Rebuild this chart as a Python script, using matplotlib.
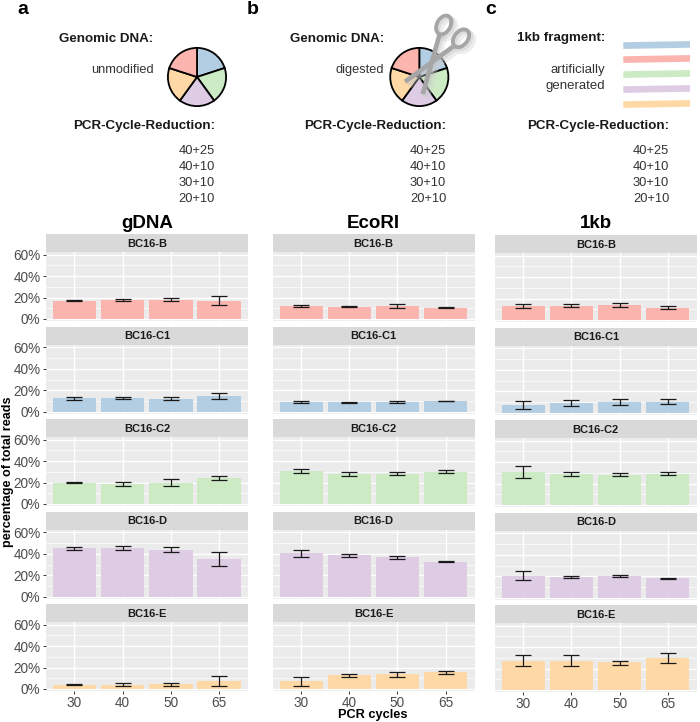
import matplotlib
matplotlib.use('Agg')
import matplotlib.pyplot as plt
from matplotlib.patches import Ellipse

plt.rcParams['font.family'] = ['Liberation Sans', 'DejaVu Sans']

W, H = 700, 722

cycles = ['30', '40', '50', '65']
samples = ['BC16-B', 'BC16-C1', 'BC16-C2', 'BC16-D', 'BC16-E']
sample_colors = ['#FBB4AE', '#B3CDE3', '#CCEBC5', '#DECBE4', '#FED9A6']
y_ticks = [0, 20, 40, 60]
y_minor = [10, 30, 50]
reductions = ['40+25', '40+10', '30+10', '20+10']

# pie shares, clockwise from the top
pie_shares = [1, 1, 1, 1, 1]
pie_colors = ['#B3CDE3', '#CCEBC5', '#DECBE4', '#FED9A6', '#FBB4AE']
fragment_colors = ['#B3CDE3', '#FBB4AE', '#CCEBC5', '#DECBE4', '#FED9A6']

# one row per sample
gdna_mean = [[17, 17.5, 18, 17], [12.5, 12.5, 12.2, 14.7], [19.7, 18.5, 20, 24.5],
             [45.3, 45.6, 43.7, 35.3], [4, 4, 4.3, 7.2]]
gdna_low = [[16.8, 16.7, 16.5, 13.5], [11.2, 11.5, 11, 11.5], [19.4, 17.2, 17.2, 22.8],
            [44, 43.7, 41.5, 28.7], [3.8, 3.1, 3.1, 2.5]]
gdna_high = [[17.5, 18.7, 20, 21], [13.7, 13.4, 13.5, 17.8], [20.3, 20.6, 23, 26.5],
             [46.5, 47.5, 46, 41.9], [4.4, 5.3, 5.9, 11.9]]

ecori_mean = [[11.9, 11.6, 12.2, 10.6], [9, 8.7, 9, 10], [31, 27.8, 28, 30],
              [40.3, 38.7, 36.6, 32.8], [7.2, 12.8, 13.7, 15.9]]
ecori_low = [[10.9, 11.2, 10, 10.3], [8.1, 8.1, 8.4, 9.7], [29, 26.2, 26.6, 29],
             [36.9, 36.9, 35, 31.9], [2.8, 11.6, 11.6, 14]]
ecori_high = [[12.8, 12.2, 14, 11.2], [9.7, 9, 10, 10.3], [33, 29.4, 29.7, 31.5],
              [43.8, 40, 37.5, 33.4], [11.6, 13.7, 15.6, 17.2]]

kb_mean = [[12.8, 13.4, 14, 11.6], [6.9, 8.7, 9.7, 10.3], [30.6, 28.7, 28.4, 28.7],
           [20.6, 19.7, 20, 18], [27.5, 26.9, 25.9, 30]]
kb_low = [[10.9, 12.2, 12.2, 10], [3.4, 6.2, 7.5, 8.1], [25, 26.6, 27.2, 27.5],
          [16.2, 18.4, 19, 17.2], [22.8, 22.2, 23.7, 25.6]]
kb_high = [[14.7, 14.7, 15.6, 12.8], [10.6, 12.2, 12.8, 12.8], [36, 31.2, 29.7, 30.3],
           [25, 20.6, 21.2, 18.4], [32.2, 32.2, 27.5, 34.7]]

titles = ['gDNA', 'EcoRI', '1kb']
col_means = [gdna_mean, ecori_mean, kb_mean]
col_lows = [gdna_low, ecori_low, kb_low]
col_highs = [gdna_high, ecori_high, kb_high]

# layout in pixels
col_left = [46, 273, 495]
col_right = [248, 474.5, 696.7]
col_shift = [0, 0, 1]
strip_top = [234.3, 327, 419.3, 512, 604.3]
strip_h = 17.7
panel_h = 69


def px_axes(fig, left, top, width, height):
    return fig.add_axes([left / W, 1 - (top + height) / H, width / W, height / H])


fig = plt.figure(figsize=(7, 7.22), dpi=100)

# facets
for c in range(3):
    left = col_left[c]
    width = col_right[c] - left
    for r in range(5):
        top = strip_top[r] + col_shift[c]
        strip = px_axes(fig, left, top, width, strip_h)
        strip.set_facecolor('#D9D9D9')
        strip.set_xticks([])
        strip.set_yticks([])
        for s in strip.spines.values():
            s.set_visible(False)
        strip.text(0.5, 0.47, samples[r], transform=strip.transAxes, ha='center', va='center',
                   fontsize=8, fontweight='bold', color='#1A1A1A')

        ax = px_axes(fig, left, top + strip_h, width, panel_h)
        ax.set_facecolor('#EBEBEB')
        for s in ax.spines.values():
            s.set_visible(False)
        ax.set_axisbelow(True)
        xs = list(range(4))
        means = col_means[c][r]
        lows = col_lows[c][r]
        highs = col_highs[c][r]
        ax.bar(xs, means, width=0.9, color=sample_colors[r], zorder=2)
        yerr = [[m - l for m, l in zip(means, lows)], [h - m for m, h in zip(means, highs)]]
        ax.errorbar(xs, means, yerr=yerr, fmt='none', ecolor='#1A1A1A', elinewidth=0.9,
                    capsize=6.1, capthick=0.9, zorder=3)
        ax.set_xlim(-0.586, 3.6)
        ax.set_ylim(-1.9, 62.5)
        ax.set_xticks(xs)
        ax.set_yticks(y_ticks)
        ax.set_yticks(y_minor, minor=True)
        ax.grid(True, which='major', color='white', lw=1.0)
        ax.grid(True, which='minor', axis='y', color='white', lw=0.5)
        ax.tick_params(which='minor', length=0)
        if c == 0:
            ax.set_yticklabels([f'{v}%' for v in y_ticks], fontsize=9.8, color='#4D4D4D')
            ax.tick_params(axis='y', length=2.5, width=0.7, color='#333333', pad=1.5)
        else:
            ax.tick_params(axis='y', length=0, labelleft=False)
        if r == 4:
            ax.set_xticklabels(cycles, fontsize=9.8, color='#4D4D4D')
            ax.tick_params(axis='x', length=2.5, width=0.7, color='#333333', pad=1)
        else:
            ax.tick_params(axis='x', length=0, labelbottom=False)

# pies
for cx in [197, 419.3]:
    pie_ax = px_axes(fig, cx - 30, 47, 60, 60)
    pie_ax.pie(pie_shares, colors=pie_colors, startangle=90, counterclock=False, radius=0.97,
               wedgeprops={'edgecolor': 'black', 'linewidth': 1.3})
    pie_ax.set_xlim(-1, 1)
    pie_ax.set_ylim(-1, 1)

# overlay in pixel coordinates for text and drawings
ov = fig.add_axes([0, 0, 1, 1], zorder=10)
ov.set_xlim(0, W)
ov.set_ylim(H, 0)
ov.axis('off')

# scissors with a soft shadow
for dx, col, lw_extra, z, a in [(4, '#CFCFCF', 1.5, 1, 0.35), (2, '#C4C4C4', 0.5, 1, 0.4),
                                (0, '#A6A6A6', 0, 2, 1)]:
    ov.plot([440 + dx, 422.7 + dx], [33 + dx, 94 + dx], color=col, lw=3.3 + lw_extra, zorder=z,
            alpha=a, solid_capstyle='butt')
    ov.plot([453 + dx, 405 + dx], [46.7 + dx, 81.7 + dx], color=col, lw=3.3 + lw_extra, zorder=z,
            alpha=a, solid_capstyle='butt')
    ov.add_patch(Ellipse((443.7 + dx, 25 + dx), 13.5, 20, angle=28, fill=False, ec=col,
                         lw=2.8 + lw_extra, zorder=z, alpha=a))
    ov.add_patch(Ellipse((461 + dx, 38.3 + dx), 13.5, 20, angle=38, fill=False, ec=col,
                         lw=2.8 + lw_extra, zorder=z, alpha=a))

# 1kb fragments
for y, col in zip([45, 59, 74, 89, 104], fragment_colors):
    ov.plot([623.3, 690], [y + 0.6, y - 0.6], color=col, lw=4.8, solid_capstyle='butt')

label_style = dict(ha='right', va='center', color='#333333')
head_style = dict(ha='right', va='center', fontweight='bold', color='#1A1A1A')

for x, txt in zip([153.7, 384.3, 605.3], ['Genomic DNA:', 'Genomic DNA:', '1kb fragment:']):
    ov.text(x, 38.5, txt, fontsize=9.6, **head_style)
ov.text(153.7, 70, 'unmodified', fontsize=9.2, **label_style)
ov.text(384.3, 70, 'digested', fontsize=9.2, **label_style)
ov.text(605.3, 70, 'artificially', fontsize=9.5, **label_style)
ov.text(605.3, 86, 'generated', fontsize=9.5, **label_style)

for x in [215, 446.3, 669.3]:
    ov.text(x, 126, 'PCR-Cycle-Reduction:', fontsize=9.6, **head_style)
    for y, txt in zip([151, 167, 183, 199], reductions):
        ov.text(x, y, txt, fontsize=9.3, **label_style)

for x, txt in zip([23, 253, 490.7], ['a', 'b', 'c']):
    ov.text(x, 9, txt, fontsize=14, fontweight='bold', ha='center', va='center', color='black')

for x, y, txt in zip([147, 373.3, 596], [223, 223, 224], titles):
    ov.text(x, y, txt, fontsize=13.5, fontweight='bold', ha='center', va='center', color='black')

ov.text(373, 715, 'PCR cycles', fontsize=9.2, fontweight='bold', ha='center', va='center')
ov.text(8, 472, 'percentage of total reads', fontsize=9.1, fontweight='bold', rotation=90,
        ha='center', va='center')

fig.savefig('out.png', dpi=100)
